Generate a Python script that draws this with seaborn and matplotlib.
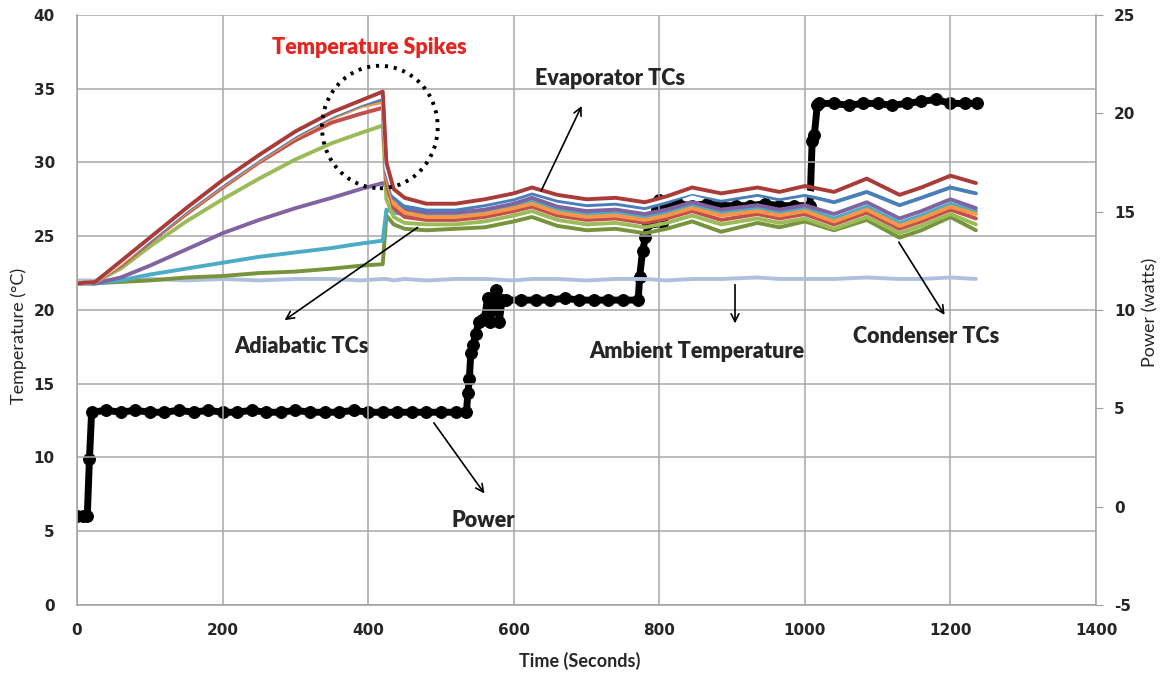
# %% Library imports

import pandas as pd
import seaborn as sns
import matplotlib.pyplot as plt
from matplotlib.patches import Ellipse

# %% Data

time_s = [0, 25, 60, 100, 150, 200, 250, 300, 350, 390, 420,
          425, 435, 450, 480, 520, 560, 600, 625, 660, 700,
          740, 780, 810, 845, 885, 935, 965, 1000,
          1040, 1085, 1130, 1160, 1200, 1235]

evap_darkred = [21.8, 21.9, 23.3, 24.9, 26.9, 28.8, 30.5, 32.1, 33.4, 34.2, 34.8,
                30.0, 28.2, 27.6, 27.2, 27.2, 27.5, 27.9, 28.3, 27.8, 27.5,
                27.6, 27.3, 27.7, 28.3, 27.9, 28.3, 28.0, 28.4,
                28.0, 28.9, 27.8, 28.3, 29.1, 28.6]
evap_white = [21.8, 21.9, 23.2, 24.8, 26.8, 28.6, 30.3, 31.9, 33.2, 34.0, 34.5,
              29.6, 27.9, 27.3, 27.0, 27.0, 27.3, 27.7, 28.1, 27.6, 27.3,
              27.4, 27.1, 27.5, 28.0, 27.6, 28.0, 27.7, 28.0,
              27.6, 28.5, 27.4, 27.9, 28.7, 28.2]
evap_blue = [21.8, 21.9, 23.2, 24.7, 26.7, 28.5, 30.2, 31.8, 33.1, 33.9, 34.3,
             29.3, 27.6, 27.0, 26.8, 26.8, 27.1, 27.5, 27.9, 27.4, 27.1,
             27.2, 26.9, 27.3, 27.9, 27.4, 27.8, 27.5, 27.8,
             27.3, 28.0, 27.1, 27.6, 28.3, 27.9]
evap_orange = [21.8, 21.9, 23.1, 24.7, 26.6, 28.4, 30.1, 31.7, 33.0, 33.8, 34.1,
               29.0, 27.2, 26.6, 26.3, 26.3, 26.5, 26.9, 27.2, 26.6, 26.3,
               26.4, 26.1, 26.4, 26.9, 26.4, 26.7, 26.4, 26.7,
               26.0, 26.8, 25.7, 26.2, 27.0, 26.5]
evap_red = [21.8, 21.9, 23.0, 24.6, 26.5, 28.3, 30.0, 31.5, 32.7, 33.3, 33.7,
            28.6, 26.9, 26.3, 26.1, 26.1, 26.3, 26.7, 27.0, 26.4, 26.1,
            26.2, 25.9, 26.2, 26.7, 26.1, 26.5, 26.2, 26.5,
            25.8, 26.6, 25.5, 26.0, 26.8, 26.2]
adia_green = [21.8, 21.9, 22.8, 24.3, 26.0, 27.5, 28.9, 30.2, 31.3, 32.0, 32.5,
              27.5, 26.3, 25.9, 25.8, 25.8, 26.0, 26.4, 26.7, 26.1, 25.8,
              25.9, 25.6, 25.9, 26.4, 25.8, 26.2, 25.9, 26.2,
              25.5, 26.3, 25.2, 25.7, 26.5, 25.8]
adia_purple = [21.8, 21.8, 22.2, 23.0, 24.1, 25.2, 26.1, 26.9, 27.6, 28.2, 28.6,
               28.3, 27.2, 26.8, 26.6, 26.6, 26.8, 27.2, 27.6, 27.0, 26.7,
               26.8, 26.5, 26.8, 27.3, 26.8, 27.1, 26.8, 27.1,
               26.5, 27.3, 26.2, 26.7, 27.5, 26.9]
adia_cyan = [21.8, 21.8, 22.0, 22.4, 22.8, 23.2, 23.6, 23.9, 24.2, 24.5, 24.7,
             26.8, 26.6, 26.5, 26.4, 26.4, 26.6, 27.0, 27.4, 26.8, 26.5,
             26.6, 26.3, 26.6, 27.1, 26.6, 26.9, 26.6, 26.9,
             26.2, 27.0, 25.9, 26.4, 27.2, 26.7]
adia_olive = [21.8, 21.8, 21.9, 22.0, 22.2, 22.3, 22.5, 22.6, 22.8, 23.0, 23.1,
              26.4, 25.8, 25.5, 25.4, 25.5, 25.6, 26.0, 26.3, 25.7, 25.4,
              25.5, 25.2, 25.5, 26.0, 25.3, 25.9, 25.6, 26.0,
              25.4, 26.1, 24.9, 25.4, 26.3, 25.4]
ambient = [22.0, 22.0, 22.0, 22.1, 22.0, 22.1, 22.0, 22.1, 22.1, 22.0, 22.1,
           22.1, 22.0, 22.1, 22.0, 22.1, 22.1, 22.0, 22.1, 22.1, 22.0,
           22.1, 22.1, 22.0, 22.1, 22.1, 22.2, 22.1, 22.1,
           22.1, 22.2, 22.1, 22.1, 22.2, 22.1]

power_t = [0, 8, 14, 17, 20,
           40, 60, 80, 100, 120, 140, 160, 180, 200, 220, 240, 260, 280,
           300, 320, 340, 360, 380, 400, 420, 440, 460, 480, 500, 520, 535,
           537, 539, 541, 544, 548, 552, 556, 560, 564, 568, 572, 576,
           580, 584, 590,
           610, 630, 650, 670, 690, 710, 730, 750, 771,
           773, 777, 781, 785, 789, 793, 797, 800, 804, 808,
           825, 845, 865, 885, 905, 925, 945, 965, 985, 1007,
           1010, 1013, 1017, 1020, 1040, 1060, 1080, 1100, 1120, 1140,
           1160, 1180, 1200, 1220, 1236]
power_w = [-0.5, -0.5, -0.5, 2.4, 4.8,
           4.9, 4.8, 4.9, 4.8, 4.8, 4.9, 4.8, 4.9, 4.8, 4.8, 4.9, 4.8, 4.8,
           4.9, 4.8, 4.8, 4.8, 4.9, 4.8, 4.8, 4.8, 4.8, 4.8, 4.8, 4.8, 4.8,
           5.8, 6.5, 7.8, 8.2, 8.8, 9.4, 9.5, 9.6, 10.6, 9.4, 10.3, 11.0,
           9.4, 10.5, 10.5,
           10.5, 10.5, 10.5, 10.6, 10.5, 10.5, 10.5, 10.5, 10.5,
           11.7, 13.0, 13.7, 14.4, 14.6, 14.5, 15.1, 15.6, 14.4, 15.4,
           15.4, 15.3, 15.4, 15.3, 15.3, 15.3, 15.4, 15.3, 15.3, 15.3,
           18.6, 18.9, 20.4, 20.5, 20.5, 20.4, 20.5, 20.5, 20.4, 20.5,
           20.6, 20.7, 20.5, 20.5, 20.5]

# drawing order (last one ends up on top) and colours
tc_series = {"Ambient": (ambient, "#AFC0DE"),
             "Adiabatic 4": (adia_olive, "#77933C"),
             "Adiabatic 3": (adia_cyan, "#4BACC6"),
             "Adiabatic 2": (adia_purple, "#8064A2"),
             "Adiabatic 1": (adia_green, "#9BBB59"),
             "Evaporator 5": (evap_red, "#C0504D"),
             "Evaporator 4": (evap_orange, "#F79646"),
             "Evaporator 3": (evap_blue, "#4A7EBB"),
             "Evaporator 2": (evap_white, "#FFFFFF"),
             "Evaporator 1": (evap_darkred, "#A93C39")}

df_temp = pd.concat([pd.DataFrame({"Time": time_s, "Temp": vals, "TC": name})
                     for name, (vals, col) in tc_series.items()])
palette = {name: col for name, (vals, col) in tc_series.items()}

# %% Plot

sns.set_style("white")
plt.rcParams["axes.unicode_minus"] = False
fig = plt.figure(figsize=(11.64, 6.76), dpi=100)
ax = fig.add_axes([0.0662, 0.105, 0.8754, 0.873])

sns.lineplot(data=df_temp, x="Time", y="Temp", hue="TC", palette=palette,
             hue_order=list(tc_series.keys()), linewidth=2.8, legend=False,
             estimator=None, sort=False, ax=ax)

ax.set_xlim(0, 1400)
ax.set_ylim(0, 40)
ax.set_xticks(range(0, 1401, 200))
ax.set_yticks(range(0, 41, 5))
ax.grid(True, color="#A8A8A8", linewidth=1.1)
for s in ["top", "right"]:
    ax.spines[s].set_visible(False)
for s in ["left", "bottom"]:
    ax.spines[s].set_color("#A0A0A0")
    ax.spines[s].set_linewidth(1.1)
ax.tick_params(axis="both", length=0, labelsize=11)
ax.tick_params(axis="y", pad=16)
ax.tick_params(axis="x", pad=13)
for lab in ax.get_xticklabels() + ax.get_yticklabels():
    lab.set_fontweight("bold")
ax.set_xlabel("")
ax.set_ylabel("")

ax2 = ax.twinx()
sns.lineplot(x=power_t, y=power_w, ax=ax2, color="black", linewidth=5,
             marker="o", markersize=8.5, markeredgecolor="black",
             estimator=None, sort=False)
ax2.set_ylim(-5, 25)
ax2.set_yticks(range(-5, 26, 5))
ax2.grid(False)
for s in ["top", "left", "bottom"]:
    ax2.spines[s].set_visible(False)
ax2.spines["right"].set_color("#A0A0A0")
ax2.spines["right"].set_linewidth(1.1)
ax2.tick_params(axis="y", length=5, color="#A0A0A0", labelsize=11, pad=8)
for lab in ax2.get_yticklabels():
    lab.set_fontweight("bold")

# axis titles placed in figure pixels
W, H = 1164, 676
fig.text(580 / W, 1 - 661 / H, "Time (Seconds)", fontsize=13,
         fontweight="bold", family="Lato", ha="center", va="center")
fig.text(19 / W, 1 - 336 / H, "Temperature (°C)", fontsize=13,
         family="Lato", rotation=90, ha="center", va="center")
fig.text(1150 / W, 1 - 312 / H, "Power (watts)", fontsize=13,
         family="Lato", rotation=90, ha="center", va="center")

# %% Annotations (in temperature coordinates)

spikes = Ellipse((416, 32.4), width=159, height=8.3, fill=False,
                 edgecolor="black", linewidth=2.8, linestyle=(0, (0.8, 1.5)),
                 zorder=5)
ax.add_patch(spikes)
ax.text(402, 37.8, "Temperature Spikes", color="#E52521", fontsize=15.5,
        fontweight="heavy", family="Lato", ha="center", va="center")

labels = [("Evaporator TCs", (732, 35.7), (695, 34.0), (636, 27.9)),
          ("Adiabatic TCs", (309, 17.55), (282, 19.2), (471, 25.7)),
          ("Ambient Temperature", (852, 17.2), (904, 18.9), (904, 21.9)),
          ("Condenser TCs", (1166, 18.2), (1194, 19.5), (1127, 24.75)),
          ("Power", (558, 5.76), (562, 7.4), (488, 12.5))]
for txt, pos, head, tail in labels:
    ax.text(pos[0], pos[1], txt, fontsize=15.5, fontweight="heavy",
            family="Lato", ha="center", va="center", zorder=6)
    ax.annotate("", xy=head, xytext=tail, zorder=6,
                arrowprops=dict(arrowstyle="->", color="black", lw=1.2,
                                mutation_scale=14))

ax.set_zorder(ax2.get_zorder() + 1)
ax.patch.set_visible(False)

plt.savefig("out.png", dpi=100)
